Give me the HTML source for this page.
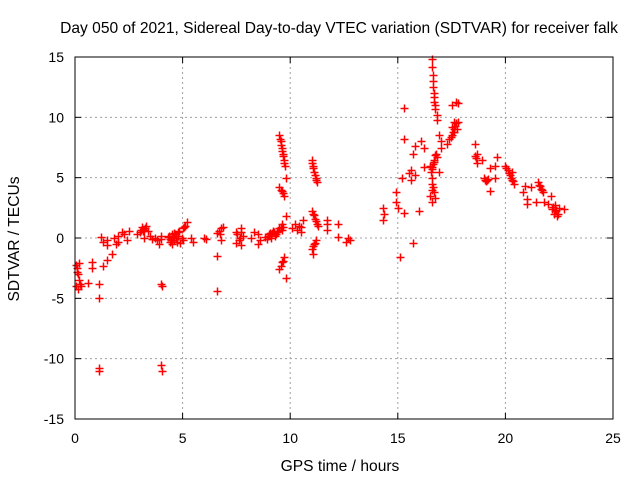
<!DOCTYPE html>
<html><head><meta charset="utf-8"><style>
body{margin:0;background:#fff}
svg text{font-family:"Liberation Sans",sans-serif;font-size:14px;fill:#000}
svg text.big{font-size:15.6px}
</style></head><body>
<svg id="c" width="640" height="480" xmlns="http://www.w3.org/2000/svg">
<text class="big" x="339" y="33" text-anchor="middle">Day 050 of 2021, Sidereal Day-to-day VTEC variation (SDTVAR) for receiver falk</text>
<text class="big" x="340" y="471" text-anchor="middle">GPS time / hours</text>
<text class="big" transform="translate(19,239) rotate(-90)" text-anchor="middle">SDTVAR / TECUs</text>
<g id="grid"></g>
<g id="ticks"></g>
<g id="pts"></g>
<rect x="75" y="57" width="538" height="362" fill="none" stroke="#000"/>
</svg>
<script>
const xTicks=[0,5,10,15,20,25];
const yTicks=[-15,-10,-5,0,5,10,15];
const xs=[0.05,0.1,0.15,0.2,0.05,0.15,0.25,0.3,0.6,0.8,0.8,1.1,1.1,1.1,1.1,1.2,1.3,1.3,1.5,1.5,1.5,1.7,1.8,1.9,2.0,2.0,2.2,2.3,2.4,2.5,
2.9,3.0,3.1,3.2,3.3,3.4,3.5,3.2,3.6,3.7,3.8,3.9,4.0,4.0,4.0,4.05,4.0,4.05,
4.3,4.4,4.5,4.6,4.7,4.8,4.9,5.0,5.1,5.2,5.0,4.5,5.5,5.4,6.0,6.1,6.6,6.6,6.6,6.8,6.8,6.9,
7.5,7.5,7.7,7.7,7.8,8.2,8.3,8.5,8.5,8.6,8.9,9.0,9.1,9.2,9.3,9.4,9.5,9.6,9.5,9.6,9.7,
9.5,9.55,9.6,9.65,9.7,9.75,9.5,9.6,9.7,9.8,9.8,9.8,9.6,
10.1,10.2,10.3,10.4,10.5,10.6,10.5,11.0,11.05,11.1,11.2,11.25,11.0,11.1,11.2,11.3,11.1,11.0,11.2,11.05,
11.7,11.7,11.7,12.2,12.2,12.6,12.7,12.8,14.3,14.3,14.35,
14.9,14.9,15.0,15.1,15.3,15.2,15.3,15.3,15.5,15.6,15.6,15.7,15.7,15.8,15.8,16.0,16.1,16.2,16.2,
16.5,16.6,16.7,16.8,16.6,16.6,16.5,16.6,16.6,16.6,16.65,16.65,16.7,16.7,16.75,16.8,16.8,
16.9,17.0,17.0,16.9,17.3,17.4,17.5,17.6,17.7,17.5,17.6,17.8,17.5,17.7,17.8,
18.6,18.6,18.7,18.7,18.9,19.0,19.1,19.2,19.3,19.3,19.5,19.5,19.6,
20.0,20.1,20.2,20.3,20.4,20.3,20.8,20.9,21.0,21.0,21.2,21.4,21.5,21.6,21.7,21.8,22.0,22.1,22.2,22.3,22.4,22.5,22.7,
0.1,0.2,3.05,3.15,3.25,4.35,4.45,4.55,4.65,4.75,4.85,4.95,5.05,4.4,4.6,4.8,6.7,6.75,7.55,7.65,7.6,7.7,8.85,8.95,9.05,9.15,9.25,9.35,9.45,9.55,9.65,
9.52,9.58,9.62,9.68,9.72,9.55,9.65,9.58,9.68,11.02,11.08,11.15,11.22,11.05,11.15,11.25,11.08,11.15,
16.55,16.6,16.62,16.68,16.72,16.78,16.6,16.65,16.7,16.75,16.62,16.68,16.72,17.45,17.55,17.65,17.75,17.6,
18.65,19.05,19.15,20.05,20.15,20.25,20.35,21.55,21.65,21.75,22.15,22.25,22.35,22.45,22.3];
const ys=[-2.2,-2.8,-3.0,-2.1,-4.0,-4.2,-3.8,-4.0,-3.7,-2.0,-2.5,-3.8,-5.0,-10.8,-11.0,0.1,-0.3,-2.3,-1.8,-0.6,-0.2,-1.3,0,-0.5,0.2,-0.3,0.5,0.3,-0.2,0.6,
0.3,0.5,0.9,0.7,1.0,0.6,0.2,0.0,-0.1,0.0,-0.2,-0.5,0.2,-0.1,-3.8,-4.0,-10.5,-11.0,
0.1,-0.3,0.3,-0.2,0.0,0.5,-0.4,0.8,1.0,1.3,-0.2,-0.5,-0.3,0.0,0.0,-0.1,0.4,-1.5,-4.4,0.8,-0.2,0.9,
0.5,-0.4,0.8,-0.6,0.2,0.0,0.5,-0.5,0.3,-0.2,-0.1,0.3,0.0,0.6,0.2,0.5,0.8,0.7,-2.6,-2.0,-1.6,
8.5,8.0,7.5,7.0,6.5,6.0,4.2,3.9,3.5,5,-3.3,1.8,1.2,
0.8,1.2,0.7,1.0,0.9,1.5,0.5,6.5,6.0,5.5,5.0,4.6,2.2,1.9,1.4,1.0,-0.5,-0.9,-0.2,-1.3,
1.5,1.2,0.7,1.2,0.1,-0.3,0.0,-0.2,1.5,2.5,2.0,
3.0,3.8,2.5,-1.6,2.1,5.0,8.2,10.8,5.4,5.6,4.8,7.0,-0.4,7.6,5.2,2.2,8.0,7.5,5.9,
6.0,5.9,6.3,6.7,5.0,4.0,3.5,3.0,14.8,14.2,13.5,13.0,12.0,11.3,10.7,10.2,9.8,
8.5,8.0,7.5,5.5,7.8,8.2,8.5,9.0,9.5,9.2,8.8,9.6,11.0,11.3,11.2,
7.8,6.8,6.2,7.0,6.5,5.0,4.7,4.9,5.8,3.9,6.0,5.0,6.7,
6.0,5.6,5.2,4.8,4.5,5.5,3.8,4.3,3.2,2.8,4.2,3.0,4.6,4.3,4.0,3.0,2.8,3.5,2.6,2.2,1.8,2.5,2.4,
-2.5,-3.5,0.7,0.6,0.8,0.2,-0.2,0.1,0.3,-0.3,0.6,0.0,0.9,-0.1,0.4,0.2,0.6,0.3,0.3,0.0,-0.2,0.5,0.1,0.2,0.4,0.4,0.5,0.3,0.6,0.9,0.9,
8.2,7.7,7.2,6.8,6.2,4.0,3.7,-2.3,-1.9,6.2,5.8,5.2,4.8,2.0,1.6,1.2,-0.7,-0.4,
5.5,5.7,6.1,6.5,6.9,7.0,4.5,4.2,3.8,3.3,12.5,11.7,11.0,8.4,8.8,9.3,9.0,9.6,
6.6,4.8,4.8,5.8,5.4,5.0,4.7,4.4,4.1,3.8,2.4,2.0,2.3,2.0,2.7];
const X=v=>75+v*538/25, Y=v=>238-v*362/30;
const NS='http://www.w3.org/2000/svg';
function mk(t,a,p){const e=document.createElementNS(NS,t);for(const k in a)e.setAttribute(k,a[k]);p.appendChild(e);return e;}
const g=document.getElementById('grid'),tk=document.getElementById('ticks'),pg=document.getElementById('pts');
xTicks.forEach(v=>{
  if(v>0&&v<25){const l=mk('line',{x1:X(v),x2:X(v),y1:57,y2:419,stroke:'#a0a0a0','stroke-dasharray':'2,3'},g);
  
  }
  mk('line',{x1:X(v),x2:X(v),y1:419,y2:413,stroke:'#000'},tk);
  mk('line',{x1:X(v),x2:X(v),y1:57,y2:63,stroke:'#000'},tk);
  const t=mk('text',{x:X(v),y:443,'text-anchor':'middle'},tk);t.textContent=v;
  
  
});
yTicks.forEach(v=>{
  if(v>-15&&v<15){const l=mk('line',{x1:75,x2:613,y1:Y(v),y2:Y(v),stroke:'#a0a0a0','stroke-dasharray':'2,3'},g);
  
  }
  mk('line',{x1:75,x2:81,y1:Y(v),y2:Y(v),stroke:'#000'},tk);
  mk('line',{x1:613,x2:607,y1:Y(v),y2:Y(v),stroke:'#000'},tk);
  const t=mk('text',{x:64,y:Y(v)+5,'text-anchor':'end'},tk);t.textContent=v;
  
  
});
xs.forEach((x,i)=>{
  const cx=Math.round(X(x))+0.5,cy=Math.round(Y(ys[i]))+0.5;
  const p=mk('path',{d:`M${cx-4} ${cy}H${cx+4}M${cx} ${cy-4}V${cy+4}`,stroke:'#f00','stroke-width':1.5,fill:'none'},pg);
  
  
});
</script>
</body></html>
